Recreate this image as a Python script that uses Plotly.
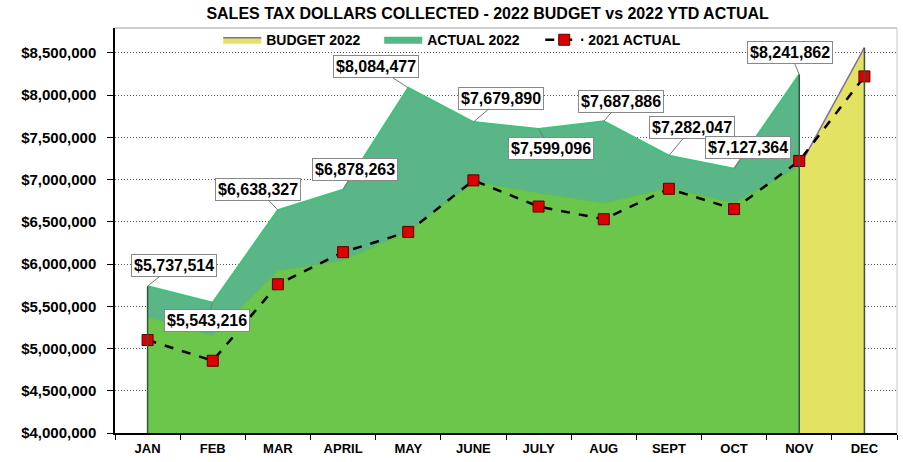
import plotly.graph_objects as go

months = ["JAN", "FEB", "MAR", "APRIL", "MAY", "JUNE", "JULY", "AUG", "SEPT", "OCT", "NOV", "DEC"]
budget_2022 = [5370000, 5150000, 5920000, 6040000, 6380000, 6970000, 6840000, 6720000, 6900000, 6720000, 7150000, 8560000]
actual_2022 = [5737514, 5543216, 6638327, 6878263, 8084477, 7679890, 7599096, 7687886, 7282047, 7127364, 8241862]
actual_2021 = [5100000, 4855000, 5760000, 6140000, 6380000, 6990000, 6680000, 6530000, 6890000, 6650000, 7220000, 8220000]
label_offsets = [(26, -21), (-6, 18), (-20, -21), (12, -20), (-32, -21), (28, -24),
                 (12, 20), (17, -20), (23, -28), (14, -21), (-9, -22)]

YELLOW = "#E4E262"
TEAL = "#5AB686"
GREEN = "#6CC64C"
FONT = "Liberation Sans, Arial, sans-serif"

n_act = len(actual_2022)

fig = go.Figure()
fig.add_trace(go.Scatter(x=months, y=budget_2022, name="<b>BUDGET 2022</b>", mode="lines",
                         fill="tozeroy", fillcolor=YELLOW,
                         line=dict(color="#7E6F9E", width=1.5)))
fig.add_trace(go.Scatter(x=months[:n_act], y=actual_2022, name="<b>ACTUAL 2022</b>", mode="lines",
                         fill="tozeroy", fillcolor=TEAL,
                         line=dict(color="#3EC27C", width=2)))
fig.add_trace(go.Scatter(x=months[:n_act], y=budget_2022[:n_act], showlegend=False, mode="lines",
                         fill="tozeroy", fillcolor=GREEN,
                         line=dict(color="#66C049", width=1), hoverinfo="skip"))
fig.add_trace(go.Scatter(x=months, y=actual_2021, name="<b>2021 ACTUAL</b>", mode="lines+markers",
                         line=dict(color="black", width=2.5, dash="dash"),
                         marker=dict(symbol="square", size=11, color="#DD0000",
                                     line=dict(color="#5A0000", width=1))))

edges = [(months[0], actual_2022[0]), (months[n_act - 1], actual_2022[-1]), (months[-1], budget_2022[-1])]
for xe, ye in edges:
    fig.add_shape(type="line", x0=xe, x1=xe, y0=4000000, y1=ye, xref="x", yref="y",
                  line=dict(color="#33563F", width=1.5), layer="above")

for i, v in enumerate(actual_2022):
    ax, ay = label_offsets[i]
    fig.add_annotation(x=months[i], y=v, text="<b>${:,}</b>".format(v), showarrow=True,
                       ax=ax, ay=ay, arrowhead=0, arrowwidth=1, arrowcolor="#777777",
                       bgcolor="white", bordercolor="#888888", borderwidth=1, borderpad=2,
                       font=dict(family=FONT, size=16, color="black"))

fig.add_shape(type="line", xref="paper", yref="paper", x0=0, x1=1, y0=1, y1=1,
              line=dict(color="#A0A0A0", width=1))
fig.add_shape(type="line", xref="paper", yref="paper", x0=1, x1=1, y0=0, y1=1,
              line=dict(color="#C8C8C8", width=1))

tickvals = [4000000 + 500000 * k for k in range(10)]
fig.update_layout(
    width=903, height=462,
    margin=dict(l=115, r=6, t=28, b=25),
    paper_bgcolor="white", plot_bgcolor="white",
    title=dict(text="<b>SALES TAX DOLLARS COLLECTED - 2022 BUDGET vs 2022 YTD ACTUAL</b>",
               x=0.54, xanchor="center", y=0.972, yanchor="middle",
               font=dict(family=FONT, size=16, color="black")),
    legend=dict(orientation="h", x=0.132, xanchor="left", y=0.97, yanchor="middle",
                bgcolor="rgba(0,0,0,0)", font=dict(family=FONT, size=14, color="black"),
                traceorder="normal", itemwidth=38, entrywidth=108, entrywidthmode="pixels"),
    showlegend=True,
)
fig.update_xaxes(type="category", range=[-0.5, 11.5], showgrid=False,
                 showline=True, linecolor="black", linewidth=1.5,
                 ticks="outside", tickson="boundaries", ticklen=5, tickcolor="black",
                 ticklabelstandoff=3,
                 tickfont=dict(family=FONT, size=13, color="black"),
                 tickprefix="<b>", ticksuffix="</b>")
fig.update_yaxes(range=[4000000, 8793000], tickvals=tickvals,
                 ticktext=["<b>${:,}</b>".format(t) for t in tickvals],
                 showgrid=True, gridcolor="#555555", griddash="1px,2px", gridwidth=1,
                 showline=True, linecolor="black", linewidth=1.5,
                 ticks="outside", ticklen=6, tickcolor="black", ticklabelstandoff=8,
                 tickfont=dict(family=FONT, size=15, color="black"), zeroline=False)

fig.write_html("out.html", config={"displayModeBar": False},
               post_script="document.body.style.margin='0';")
